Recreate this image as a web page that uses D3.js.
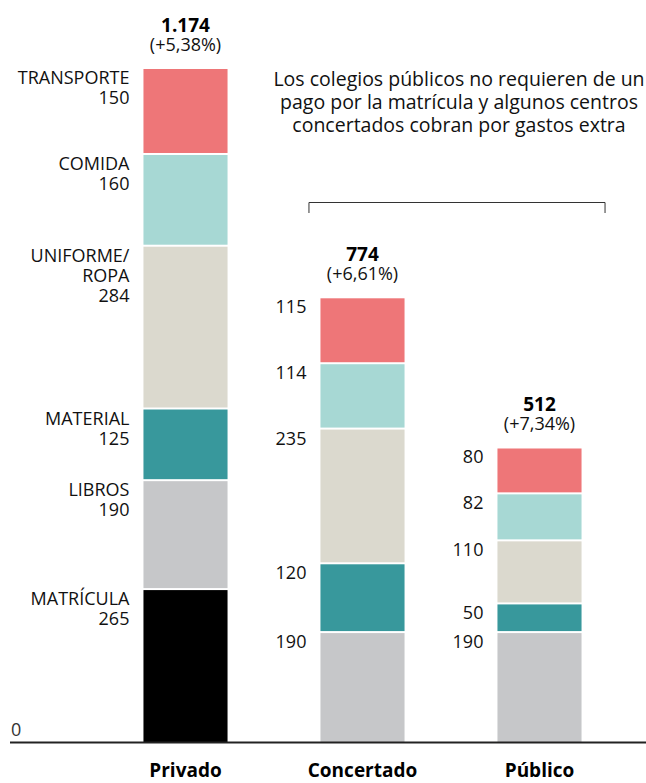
<!DOCTYPE html>
<html>
<head>
<meta charset="utf-8">
<script src="https://cdn.jsdelivr.net/npm/d3@7"></script>
<style>
  html, body { margin: 0; padding: 0; background: #fff; }
  svg { display: block; font-family: "Open Sans", sans-serif; }
</style>
</head>
<body>
<svg width="646" height="783"></svg>
<script>
// datos
const categories = ["Privado", "Concertado", "Público"];
const concepts = ["matricula", "libros", "material", "uniforme", "comida", "transporte"];
const conceptNames = [["MATRÍCULA"], ["LIBROS"], ["MATERIAL"], ["UNIFORME/", "ROPA"], ["COMIDA"], ["TRANSPORTE"]];
const conceptColors = ["#000000", "#c6c7c9", "#38989c", "#dbd9ce", "#a7d8d4", "#ee7678"];
const matricula = [265, 0, 0];
const libros = [190, 190, 190];
const material = [125, 120, 50];
const uniforme = [284, 235, 110];
const comida = [160, 114, 82];
const transporte = [150, 115, 80];
const totals = ["1.174", "774", "512"];
const changes = ["(+5,38%)", "(+6,61%)", "(+7,34%)"];
const note = ["Los colegios públicos no requieren de un", "pago por la matrícula y algunos centros", "concertados cobran por gastos extra"];

const series = { matricula, libros, material, uniforme, comida, transporte };
const rows = categories.map((c, i) => {
  const r = { cat: c };
  concepts.forEach(k => r[k] = series[k][i]);
  return r;
});

const svg = d3.select("svg");
const textColor = "#111";

const stack = d3.stack().keys(concepts)(rows);
const maxTotal = d3.max(rows, r => d3.sum(concepts, k => r[k]));

const x = d3.scaleBand().domain(categories).range([97, 628])
  .paddingInner(0.525).paddingOuter(0.2625);
const y = d3.scaleLinear().domain([0, maxTotal]).range([742, 69]);

// barras apiladas
const layers = svg.append("g").selectAll("g")
  .data(stack)
  .join("g")
  .attr("fill", (d, i) => conceptColors[i]);

layers.selectAll("rect")
  .data(d => d.map(v => Object.assign(v, { key: d.key })))
  .join("rect")
  .filter(d => d[1] > d[0])
  .attr("x", d => x(d.data.cat))
  .attr("width", x.bandwidth())
  .attr("y", d => y(d[1]))
  .attr("height", d => y(d[0]) - y(d[1]) - (d[0] > 0 ? 2 : 0));

// etiquetas de cada tramo
stack.forEach((layer, li) => {
  layer.forEach((d, ci) => {
    const val = d[1] - d[0];
    if (val <= 0) return;
    const lines = ci === 0 ? conceptNames[li].concat([String(val)]) : [String(val)];
    const t = svg.append("text")
      .attr("x", x(d.data.cat) - 14)
      .attr("y", y(d[1]) + 15)
      .attr("text-anchor", "end")
      .attr("font-size", 18)
      .attr("fill", textColor);
    lines.forEach((l, j) => {
      t.append("tspan").attr("x", x(d.data.cat) - 14).attr("dy", j ? 20 : 0).text(l);
    });
  });
});

// totales
rows.forEach((r, i) => {
  const cx = x(r.cat) + x.bandwidth() / 2;
  const top = y(d3.sum(concepts, k => r[k]));
  svg.append("text").attr("x", cx).attr("y", top - 37)
    .attr("text-anchor", "middle").attr("font-size", 19).attr("font-weight", "bold")
    .attr("fill", "#000").text(totals[i]);
  svg.append("text").attr("x", cx).attr("y", top - 18)
    .attr("text-anchor", "middle").attr("font-size", 18)
    .attr("fill", textColor).text(changes[i]);
});

// eje
svg.append("line")
  .attr("x1", 10).attr("x2", 646)
  .attr("y1", y(0) + 0.5).attr("y2", y(0) + 0.5)
  .attr("stroke", "#222").attr("stroke-width", 2);

svg.append("text").attr("x", 11).attr("y", y(0) - 6)
  .attr("font-size", 18).attr("fill", "#333").text("0");

svg.append("g").selectAll("text")
  .data(categories)
  .join("text")
  .attr("x", d => x(d) + x.bandwidth() / 2)
  .attr("y", 777)
  .attr("text-anchor", "middle")
  .attr("font-size", 19)
  .attr("font-weight", "bold")
  .attr("fill", "#000")
  .text(d => d);

// nota y corchete
svg.append("text")
  .attr("x", 459).attr("y", 86)
  .attr("text-anchor", "middle")
  .attr("font-size", 19.5)
  .attr("fill", textColor)
  .selectAll("tspan")
  .data(note)
  .join("tspan")
  .attr("x", 459)
  .attr("dy", (d, i) => i ? 23 : 0)
  .text(d => d);

const bx0 = x("Concertado") - 12, bx1 = x("Público") + x.bandwidth() + 24;
svg.append("path")
  .attr("d", `M${bx0 + 0.5},213 V202.5 H${bx1 - 0.5} V213`)
  .attr("fill", "none")
  .attr("stroke", "#333")
  .attr("stroke-width", 1);
</script>
</body>
</html>
